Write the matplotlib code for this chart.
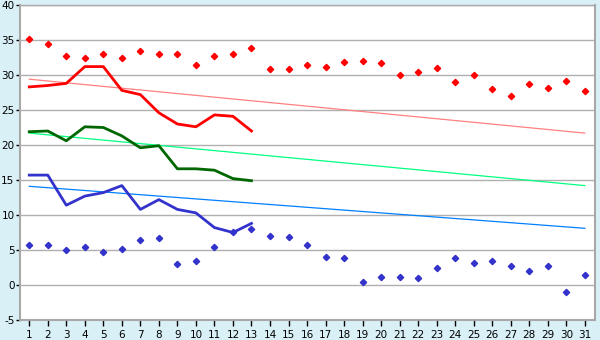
import matplotlib
matplotlib.use("Agg")
import matplotlib.pyplot as plt

plt.rcParams["axes.unicode_minus"] = False

# days of the month
days = list(range(1, 32))
days_obs = list(range(1, 14))

# daily max / min (markers)
max_temp = [35.2, 34.4, 32.7, 32.4, 33.0, 32.5, 33.4, 33.0, 33.0, 31.5,
            32.7, 33.0, 33.8, 30.8, 30.8, 31.4, 31.2, 31.8, 32.0, 31.7,
            30.0, 30.4, 31.0, 29.0, 30.0, 28.0, 27.0, 28.7, 28.1, 29.1, 27.7]
min_temp = [5.7, 5.7, 5.0, 5.4, 4.7, 5.2, 6.4, 6.7, 3.0, 3.4,
            5.4, 7.6, 8.0, 7.0, 6.8, 5.7, 4.0, 3.8, 0.4, 1.1,
            1.1, 1.0, 2.4, 3.8, 3.2, 3.5, 2.7, 2.0, 2.7, -1.0, 1.4]

# thick lines, days 1-13
line_red = [28.3, 28.5, 28.8, 31.2, 31.2, 27.8, 27.2, 24.6, 23.0, 22.6, 24.3, 24.1, 22.0]
line_green = [21.9, 22.0, 20.6, 22.6, 22.5, 21.3, 19.6, 19.9, 16.6, 16.6, 16.4, 15.2, 14.9]
line_blue = [15.7, 15.7, 11.4, 12.7, 13.2, 14.2, 10.8, 12.2, 10.8, 10.3, 8.2, 7.5, 8.8]

# normals (start and end of month)
trend_days = [1, 31]
trend_max = [29.4, 21.7]
trend_mean = [21.7, 14.2]
trend_min = [14.1, 8.1]

yticks = list(range(-5, 41, 5))

fig = plt.figure(figsize=(6, 3.4), dpi=100, facecolor="#daf0f7")
ax = fig.add_axes([20 / 600, 1 - 320 / 340, 575 / 600, 315 / 340])
ax.set_facecolor("white")

ax.plot(trend_days, trend_max, color="#ff8080", lw=0.9, zorder=3)
ax.plot(trend_days, trend_mean, color="#00ff80", lw=0.9, zorder=3)
ax.plot(trend_days, trend_min, color="#0080ff", lw=0.9, zorder=3)

ax.plot(days_obs, line_red, color="#ff0000", lw=2, zorder=4)
ax.plot(days_obs, line_green, color="#006600", lw=2, zorder=4)
ax.plot(days_obs, line_blue, color="#3333cc", lw=2, zorder=4)

ax.plot(days, max_temp, ls="none", marker="D", ms=3.2, color="#ff0000", zorder=5)
ax.plot(days, min_temp, ls="none", marker="D", ms=3.2, color="#3333cc", zorder=5)

ax.set_xlim(0.5, 31.55)
ax.set_ylim(-5, 40)
ax.set_xticks(days)
ax.set_yticks(yticks)
ax.grid(axis="y", color="#b0b0b0", lw=1)
ax.set_axisbelow(True)
for s in ax.spines.values():
    s.set_color("#a8a8a8")
    s.set_linewidth(1.5)
ax.spines["top"].set_linewidth(1)
ax.tick_params(axis="both", colors="black", labelsize=7.5, width=1)
ax.tick_params(axis="y", length=3, pad=1)
ax.tick_params(axis="x", length=4, pad=3)

fig.savefig("out.png", dpi=100, facecolor=fig.get_facecolor())
